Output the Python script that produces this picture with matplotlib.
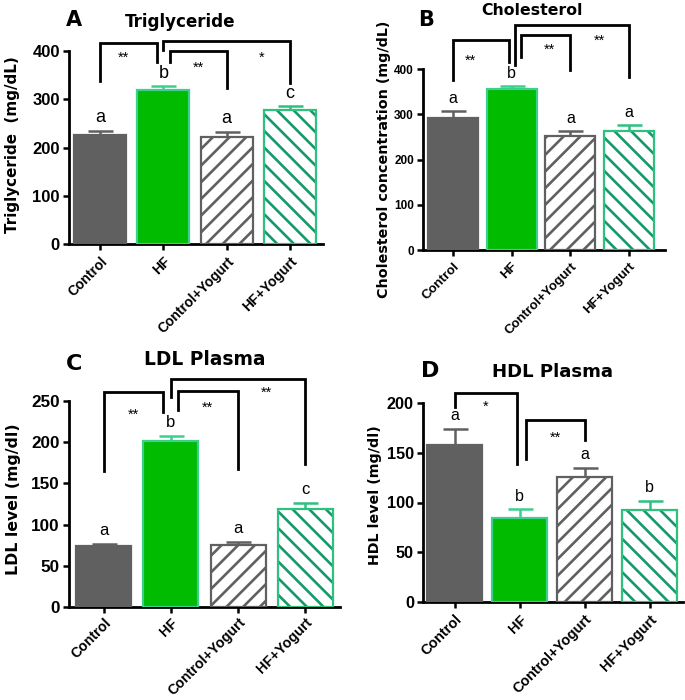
import matplotlib
matplotlib.use('Agg')
import matplotlib.pyplot as plt
import numpy as np

# ---------------- data ----------------
categories = ['Control', 'HF', 'Control+Yogurt', 'HF+Yogurt']

tg_mean = [225, 319, 221, 278]
tg_sem = [9, 8, 11, 7]
tg_letters = ['a', 'b', 'a', 'c']

chol_mean = [291, 356, 252, 264]
chol_sem = [16, 7, 11, 12]
chol_letters = ['a', 'b', 'a', 'a']

ldl_mean = [73.6, 201, 75.6, 119]
ldl_sem = [2.5, 6, 3, 7]
ldl_letters = ['a', 'b', 'a', 'c']

hdl_mean = [158, 84, 125.6, 92]
hdl_sem = [15.5, 9, 9.5, 9.5]
hdl_letters = ['a', 'b', 'a', 'b']

# significance brackets: (x_left, x_right, left_end, top, right_end, label, label_x, label_y)
tg_brackets = [(1.0, 3.0, 402, 421, 333, '*', 2.55, 395),
               (0.0, 0.9, 337, 417, 378, '**', 0.37, 395),
               (1.1, 2.0, 378, 399, 323, '**', 1.55, 374)]
chol_brackets = [(1.05, 3.0, 409, 497, 382, '**', 2.5, 471),
                 (0.0, 0.95, 376, 463, 416, '**', 0.3, 427),
                 (1.16, 2.0, 427, 475, 398, '**', 1.65, 453)]
ldl_brackets = [(1.0, 3.0, 255, 277, 174, '**', 2.42, 265),
                (0.0, 0.88, 165, 261, 237, '**', 0.44, 239),
                (1.1, 2.0, 239, 262, 168, '**', 1.55, 247)]
hdl_brackets = [(0.0, 0.95, 196, 210, 139, '*', 0.47, 201),
                (1.1, 2.0, 144, 182.6, 162.5, '**', 1.55, 169)]

# ---------------- style ----------------
GRAY = '#606060'
GREEN = '#00bb00'
GREEN_EDGE = '#3ccf8e'
HATCH_GREEN = '#14996a'
HATCH_EDGE = '#2ec07f'
TICKFONT = 'Liberation Sans'
LABFONT = 'DejaVu Sans'

plt.rcParams['hatch.linewidth'] = 1.9

W, H = 685, 700
fig = plt.figure(figsize=(W / 100, H / 100), dpi=100)


def add_ax(l, r, b, t):
    return fig.add_axes([l / W, 1 - b / H, (r - l) / W, (b - t) / H])


panels = [
    dict(box=(69, 323, 244, 51), ylim=400, ystep=100, xlim=(-0.49, 3.52), bw=0.82,
         mean=tg_mean, sem=tg_sem, letters=tg_letters, brackets=tg_brackets,
         ytick_fs=12, xtick_fs=10, xpad=3, letter_fs=13,
         title='Triglyceride', title_xy=(180, 27), title_fs=12.1,
         tag='A', tag_xy=(74, 26), tag_fs=15,
         ylabel='Triglyceride  (mg/dL)', ylabel_xy=(13, 145), ylabel_fs=10.9),
    dict(box=(423, 665, 250, 69), ylim=400, ystep=100, xlim=(-0.51, 3.61), bw=0.85,
         mean=chol_mean, sem=chol_sem, letters=chol_letters, brackets=chol_brackets,
         ytick_fs=8.5, xtick_fs=9.5, xpad=3, letter_fs=11.5,
         title='Cholesterol', title_xy=(532, 15), title_fs=11.3,
         tag='B', tag_xy=(426, 26), tag_fs=15,
         ylabel='Cholesterol concentration (mg/dL)', ylabel_xy=(384, 159), ylabel_fs=10.3),
    dict(box=(69, 340, 607, 401), ylim=250, ystep=50, xlim=(-0.52, 3.52), bw=0.82,
         mean=ldl_mean, sem=ldl_sem, letters=ldl_letters, brackets=ldl_brackets,
         ytick_fs=12.3, xtick_fs=10.2, xpad=1.5, letter_fs=12,
         title='LDL Plasma', title_xy=(205, 365), title_fs=13.4,
         tag='C', tag_xy=(74, 370), tag_fs=16,
         ylabel='LDL level (mg/dl)', ylabel_xy=(14, 499), ylabel_fs=11.3),
    dict(box=(423, 683, 602, 403), ylim=200, ystep=50, xlim=(-0.49, 3.51), bw=0.85,
         mean=hdl_mean, sem=hdl_sem, letters=hdl_letters, brackets=hdl_brackets,
         ytick_fs=11.7, xtick_fs=10.4, xpad=3, letter_fs=11.5,
         title='HDL Plasma', title_xy=(552, 377), title_fs=13.1,
         tag='D', tag_xy=(430, 377), tag_fs=16,
         ylabel='HDL level (mg/dl)', ylabel_xy=(375, 495), ylabel_fs=10.3),
]

fills = [GRAY, GREEN, 'white', 'white']
edges = [GRAY, GREEN_EDGE, GRAY, HATCH_EDGE]
hatches = [None, None, '//', '\\\\']
hatch_cols = [GRAY, GREEN_EDGE, GRAY, HATCH_GREEN]
err_cols = [GRAY, GREEN_EDGE, GRAY, HATCH_EDGE]

for p in panels:
    ax = add_ax(*p['box'])
    x = np.arange(len(categories))
    for i in range(len(categories)):
        # fill + hatch
        ax.bar(x[i], p['mean'][i], width=p['bw'], color=fills[i],
               edgecolor=hatch_cols[i], hatch=hatches[i], linewidth=0, zorder=2)
        # outline
        ax.bar(x[i], p['mean'][i], width=p['bw'], fill=False,
               edgecolor=edges[i], linewidth=1.6, zorder=3)
        ax.errorbar(x[i], p['mean'][i], yerr=[[0], [p['sem'][i]]], fmt='none',
                    ecolor=err_cols[i], elinewidth=1.8, capsize=9, capthick=1.8, zorder=1)
        ax.text(x[i], p['mean'][i] + p['sem'][i] + 0.045 * p['ylim'], p['letters'][i],
                ha='center', va='baseline', fontsize=p['letter_fs'], family=TICKFONT)
    for (x1, x2, y1, yt, y2, lab, lx, ly) in p['brackets']:
        ax.plot([x1, x1, x2, x2], [y1, yt, yt, y2], color='black', lw=2.0,
                clip_on=False, solid_joinstyle='miter', zorder=4)
        ax.annotate(lab, (lx, ly), xytext=(0, -0.57 * 10.5), textcoords='offset points',
                    ha='center', va='baseline', fontsize=10.5, family=TICKFONT,
                    annotation_clip=False)
    ax.set_xlim(*p['xlim'])
    ax.set_ylim(0, p['ylim'])
    ax.set_yticks(np.arange(0, p['ylim'] + 1, p['ystep']))
    ax.set_xticks(x)
    ax.set_xticklabels(categories, rotation=45, ha='right', va='top',
                       rotation_mode='anchor', fontsize=p['xtick_fs'],
                       fontweight='bold', family=TICKFONT)
    for lbl in ax.get_yticklabels():
        lbl.set_fontsize(p['ytick_fs'])
        lbl.set_fontweight('bold')
        lbl.set_family(TICKFONT)
    for s in ['top', 'right']:
        ax.spines[s].set_visible(False)
    for s in ['left', 'bottom']:
        ax.spines[s].set_linewidth(2.0)
    ax.tick_params(axis='both', direction='out', length=4.5, width=1.8, color='black', pad=2)
    ax.tick_params(axis='x', pad=p['xpad'])

    tx, ty = p['title_xy']
    fig.text(tx / W, 1 - ty / H, p['title'], ha='center', va='baseline',
             fontsize=p['title_fs'], fontweight='bold', family=LABFONT)
    gx, gy = p['tag_xy']
    fig.text(gx / W, 1 - gy / H, p['tag'], ha='center', va='baseline',
             fontsize=p['tag_fs'], fontweight='bold', family=LABFONT)
    lx, ly = p['ylabel_xy']
    fig.text(lx / W, 1 - ly / H, p['ylabel'], ha='center', va='center', rotation=90,
             fontsize=p['ylabel_fs'], fontweight='bold', family=LABFONT)

fig.savefig('out.png', dpi=100, facecolor='white')
